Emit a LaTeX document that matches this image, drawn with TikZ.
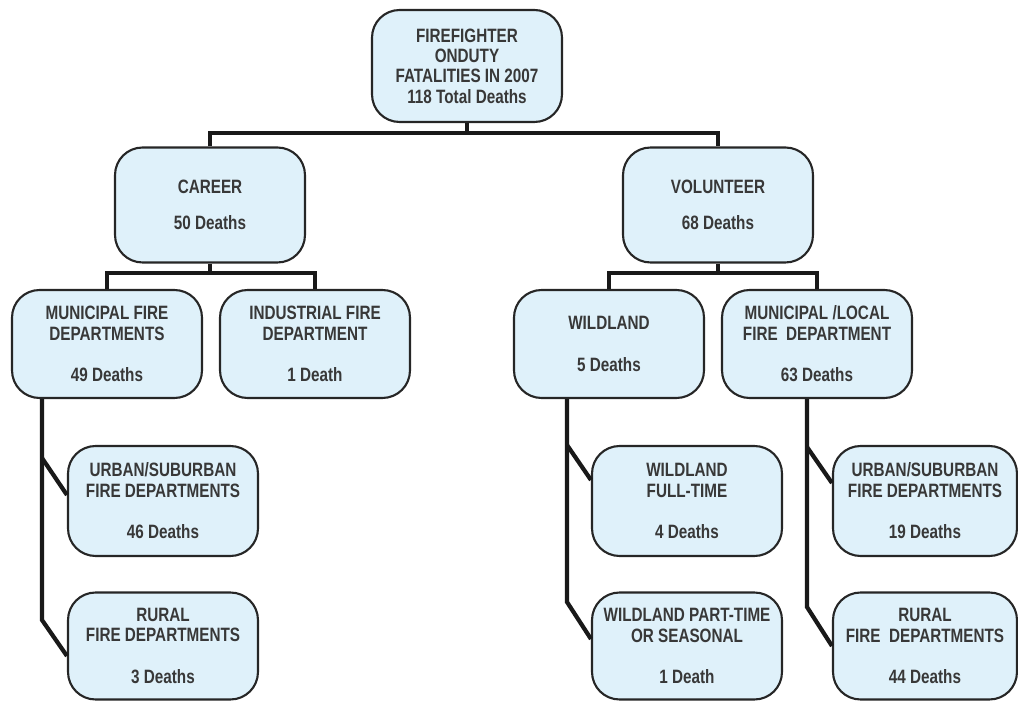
\documentclass[tikz,border=0pt]{standalone}
\usepackage{fontspec}
\usepackage[dvipsnames]{xcolor}
\usetikzlibrary{calc}
\newfontfamily\boxfont{Liberation Sans Bold}[FakeStretch=0.79]
\definecolor{boxfill}{HTML}{DFF1FA}
\definecolor{boxtext}{HTML}{383838}

\begin{document}
\begin{tikzpicture}[x=0.02cm,y=-0.02cm,link/.style={line width=2.4pt,draw=black!90},fire box/.style={rectangle,rounded corners=0.55cm,draw=black!85,line width=1.2pt,fill=boxfill,text=boxtext,minimum width=3.8cm,minimum height=2.2cm,inner sep=0pt,align=center,font={\boxfont\fontsize{11}{11.6}\selectfont}}]
            \useasboundingbox (0,0) rectangle (1018,702);

            \node[fire box,minimum height=2.24cm] (top) at (467,66) {FIREFIGHTER\\ONDUTY\\FATALITIES IN 2007\\118 Total Deaths};
            \node[fire box,minimum height=2.3cm] (career) at (210,205) {CAREER\\[9pt]50 Deaths};
            \node[fire box,minimum height=2.3cm] (volunteer) at (718,205) {VOLUNTEER\\[9pt]68 Deaths};

            \node[fire box,minimum height=2.16cm] (municipal) at (107,344) {MUNICIPAL FIRE\\DEPARTMENTS\\[12pt]49 Deaths};
            \node[fire box,minimum height=2.16cm] (industrial) at (315,344) {INDUSTRIAL FIRE\\DEPARTMENT\\[12pt]1 Death};
            \node[fire box,minimum height=2.16cm] (wildland) at (609,344) {WILDLAND\\[12pt]5 Deaths};
            \node[fire box,minimum height=2.16cm] (local) at (817,344) {MUNICIPAL /LOCAL\\FIRE~~DEPARTMENT\\[12pt]63 Deaths};

            \node[fire box] (urbanL) at (163,501) {URBAN/SUBURBAN\\FIRE DEPARTMENTS\\[12pt]46 Deaths};
            \node[fire box,minimum height=2.14cm] (ruralL) at (163,646) {RURAL\\FIRE DEPARTMENTS\\[12pt]3 Deaths};
            \node[fire box] (fulltime) at (687,501) {WILDLAND\\FULL-TIME\\[12pt]4 Deaths};
            \node[fire box,minimum height=2.14cm] (parttime) at (687,646) {WILDLAND PART-TIME\\OR SEASONAL\\[12pt]1 Death};
            \node[fire box,minimum width=3.68cm] (urbanR) at (925,501) {URBAN/SUBURBAN\\FIRE DEPARTMENTS\\[12pt]19 Deaths};
            \node[fire box,minimum width=3.68cm,minimum height=2.14cm] (ruralR) at (925,646) {RURAL\\FIRE~~DEPARTMENTS\\[12pt]44 Deaths};

            % bars under the upper boxes
            \coordinate (topbar) at (467,133);
            \coordinate (careerbar) at (210,273);
            \coordinate (volbar) at (718,273);
            \draw[link] (top.south) -- (topbar);
            \draw[link] (career.north) |- (topbar) -| (volunteer.north);
            \draw[link] (career.south) -- (careerbar);
            \draw[link] (municipal.north) |- (careerbar) -| (industrial.north);
            \draw[link] (volunteer.south) -- (volbar);
            \draw[link] (wildland.north) |- (volbar) -| (local.north);

            % trunks with slanted branches
            \coordinate (mfork) at (42,458);
            \coordinate (mend) at (42,620);
            \draw[link] (mend |- municipal.south) -- (mend) -- ($(ruralL.west)+(0,10)$);
            \draw[link] (mfork) -- ($(urbanL.west)+(0,-6)$);

            \coordinate (wfork) at (567,445);
            \coordinate (wend) at (567,602);
            \draw[link] (wend |- wildland.south) -- (wend) -- ($(parttime.west)+(0,-7)$);
            \draw[link] (wfork) -- ($(fulltime.west)+(0,-21)$);

            \coordinate (lfork) at (807,447);
            \coordinate (lend) at (807,607);
            \draw[link] (lend |- local.south) -- (lend) -- (ruralR.west);
            \draw[link] (lfork) -- ($(urbanR.west)+(0,-18)$);
        \end{tikzpicture}
\end{document}
